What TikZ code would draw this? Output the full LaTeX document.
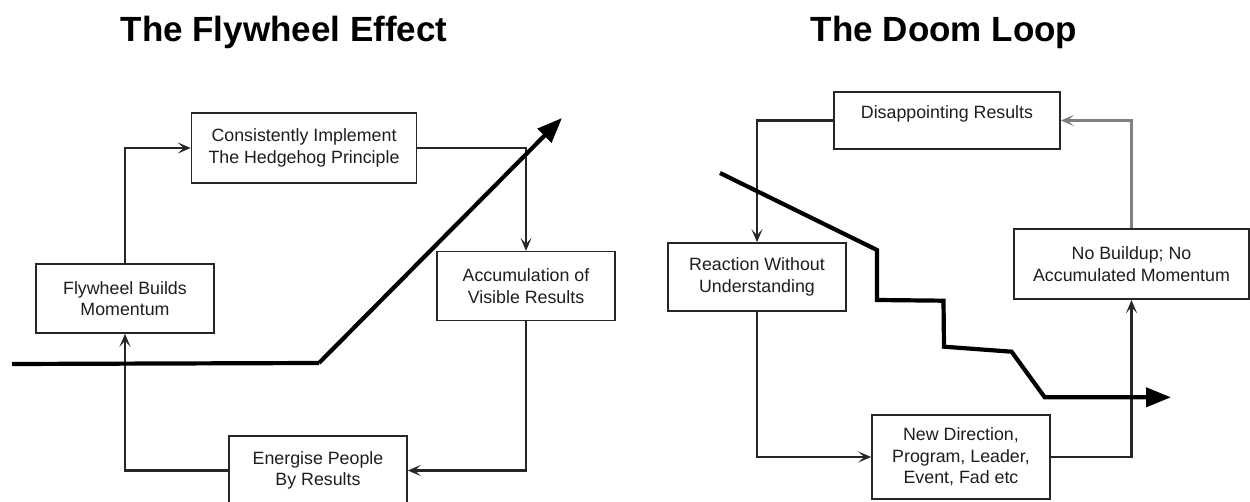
\documentclass[tikz,border=0pt]{standalone}
\usepackage{fontspec}
\setmainfont{Liberation Sans}
\usetikzlibrary{arrows.meta}
\definecolor{boxline}{HTML}{262626}
\definecolor{txt}{HTML}{1E1E1E}
\definecolor{grayconn}{HTML}{7F7F7F}
\tikzset{
  box/.style={draw=boxline, line width=1.6pt, fill=white, rectangle, inner sep=0pt,
    align=center, text=txt, font=\fontsize{17.8pt}{21.5pt}\selectfont},
  conn/.style={draw=boxline, line width=2.3pt, -{Stealth[length=13pt,width=11pt,inset=6pt]}},
  thick/.style={draw=black, line width=4.2pt, -{Triangle[length=25pt,width=19pt]}},
  title/.style={font=\fontsize{35pt}{40pt}\selectfont\bfseries, anchor=base, inner sep=0pt},
}
\begin{document}
\begin{tikzpicture}[x=1pt,y=-1pt]
\clip (0,0) rectangle (1250,502);
\fill[white] (0,0) rectangle (1250,502);

% Titles
\node[title] (t1) at (284,41.7) {The Flywheel Effect};
\node[title] (t2) at (944,41.7) {The Doom Loop};

% Left: Flywheel
\node[box, minimum width=225pt, minimum height=70pt] (cons) at (304,148) {Consistently Implement\\The Hedgehog Principle};
\node[box, minimum width=178pt, minimum height=69pt] (fly) at (125,298.5) {Flywheel Builds\\Momentum};
\node[box, minimum width=178pt, minimum height=69pt] (acc) at (526,286.2) {Accumulation of\\Visible Results};
\node[box, minimum width=178pt, minimum height=69pt] (ener) at (318,470.5) {Energise People\\By Results};

\draw[conn] (fly.north) |- (cons.west);
\draw[conn] (cons.east) -| (acc.north);
\draw[conn] (acc.south) |- (ener.east);
\draw[conn] (ener.west) -| (fly.south);

\coordinate (fa) at (12,364);
\coordinate (fb) at (319,363);
\coordinate (fc) at (562,118);
\draw[thick, -] (fa) -- (fb);
\draw[thick, line cap=butt] (fb) -- (fc);

% Right: Doom loop
\node[box, minimum width=226pt, minimum height=57pt] (dis) at (947,120.5) {};
\node[text=txt, font=\fontsize{17.8pt}{21.5pt}\selectfont, inner sep=0pt] (distext) at (947,114) {Disappointing Results};
\node[box, minimum width=178pt, minimum height=68pt] (rea) at (757,277) {Reaction Without\\Understanding};
\node[box, minimum width=235pt, minimum height=70pt] (nob) at (1131.5,264.3) {No Buildup; No\\Accumulated Momentum};
\node[box, minimum width=178pt, minimum height=84pt] (new) at (961,457) {New Direction,\\Program, Leader,\\Event, Fad etc};

\draw[conn] (dis.west) -| (rea.north);
\draw[conn] (rea.south) |- (new.west);
\draw[conn] (new.east) -| (nob.south);
\draw[conn, draw=grayconn] (nob.north) |- (dis.east);

\coordinate (d1) at (720,173);
\coordinate (d2) at (877,250);
\coordinate (d3) at (877,300);
\coordinate (d4) at (943.5,300.7);
\coordinate (d5) at (944,346.7);
\coordinate (d6) at (1011.6,351.7);
\coordinate (d7) at (1044.7,397.3);
\coordinate (d8) at (1171,397.3);
\draw[thick, line join=miter] (d1) -- (d2) -- (d3) -- (d4) -- (d5) -- (d6) -- (d7) -- (d8);
\end{tikzpicture}
\end{document}
